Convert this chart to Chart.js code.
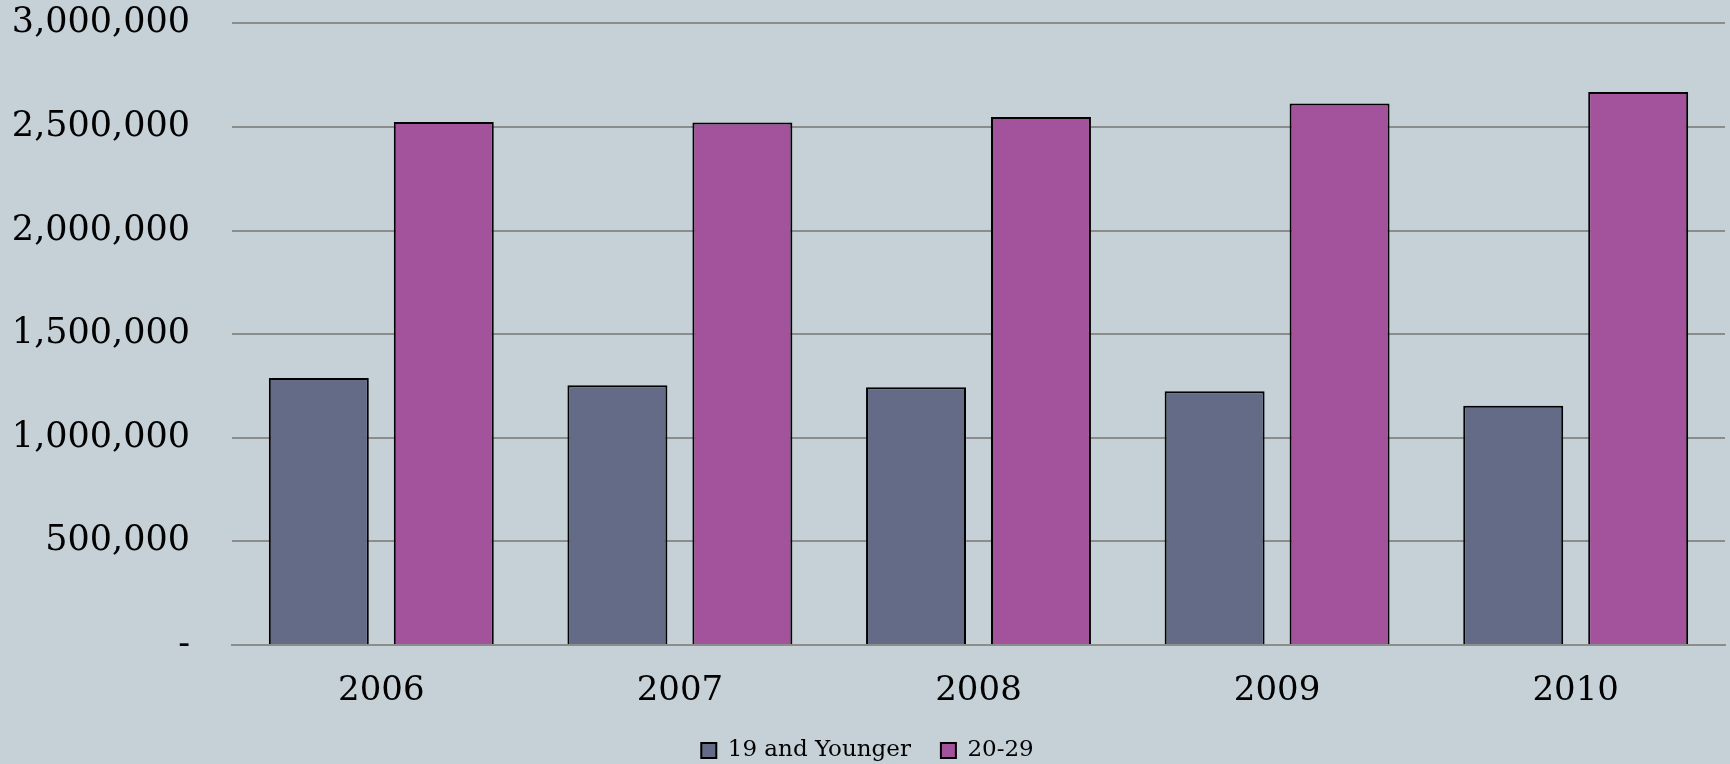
<!DOCTYPE html>
<html>
<head>
<meta charset="utf-8">
<script src="https://cdn.jsdelivr.net/npm/chart.js@4"></script>
<style>
    html, body { margin: 0; padding: 0; background: #c5d1d7; }
    #wrap { width: 1730px; height: 764px; }
</style>
</head>
<body>
<div id="wrap"><canvas id="ageChart" width="1730" height="764"></canvas></div>
<script>
const years = ['2006', '2007', '2008', '2009', '2010'];
const youngerValues = [1288000, 1253000, 1244000, 1224000, 1155000];
const twentiesValues = [2524000, 2521000, 2548000, 2613000, 2668000];
const yTicks = [0, 500000, 1000000, 1500000, 2000000, 2500000, 3000000];

const serif = "'DejaVu Serif', serif";

function formatTick(value) {
    return value === 0 ? '-' : value.toLocaleString('en-US'); // zero shown as a dash
}

function loadAgeChart() {
    const ctx = document.getElementById('ageChart').getContext('2d');
    Chart.defaults.font.family = serif;
    Chart.defaults.color = '#000';

    new Chart(ctx, {
        type: 'bar',
        data: {
            labels: years,
            datasets: [{
                label: '19 and Younger',
                data: youngerValues,
                backgroundColor: '#646b87',
                borderColor: '#000',
                borderWidth: 2,
                borderSkipped: 'bottom'
            }, {
                label: '20-29',
                data: twentiesValues,
                backgroundColor: '#a3529c',
                borderColor: '#000',
                borderWidth: 2,
                borderSkipped: 'bottom'
            }]
        },
        options: {
            responsive: false,
            animation: false,
            categoryPercentage: 0.837,
            barPercentage: 0.8,
            // small negative bottom padding pulls the legend a bit lower
            layout: { padding: { left: 10, right: 5, top: 0, bottom: -8 } },
            plugins: {
                tooltip: { enabled: false },
                legend: {
                    position: 'bottom',
                    labels: {
                        font: { size: 23, family: serif },
                        boxWidth: 15,
                        boxHeight: 15,
                        padding: 30
                    }
                }
            },
            scales: {
                x: {
                    afterFit: scale => { scale.height = 64; },
                    grid: { display: false, drawTicks: false },
                    border: { color: '#8c8c8c', width: 2 },
                    ticks: { font: { size: 34 }, padding: 26 }
                },
                y: {
                    min: 0,
                    max: 3000000,
                    afterBuildTicks: scale => { scale.ticks = yTicks.map(v => ({ value: v })); },
                    afterFit: scale => { scale.width = 222; },
                    grid: { color: '#8c8c8c', lineWidth: 2, drawTicks: true, tickLength: 42, tickColor: 'rgba(0,0,0,0)' },
                    border: { display: false },
                    ticks: {
                        // taller line height gives the top label room and sets the plot top
                        font: { size: 35, lineHeight: 1.33 },
                        padding: 0,
                        callback: formatTick
                    }
                }
            }
        }
    });
}

window.onload = loadAgeChart;
</script>
</body>
</html>
